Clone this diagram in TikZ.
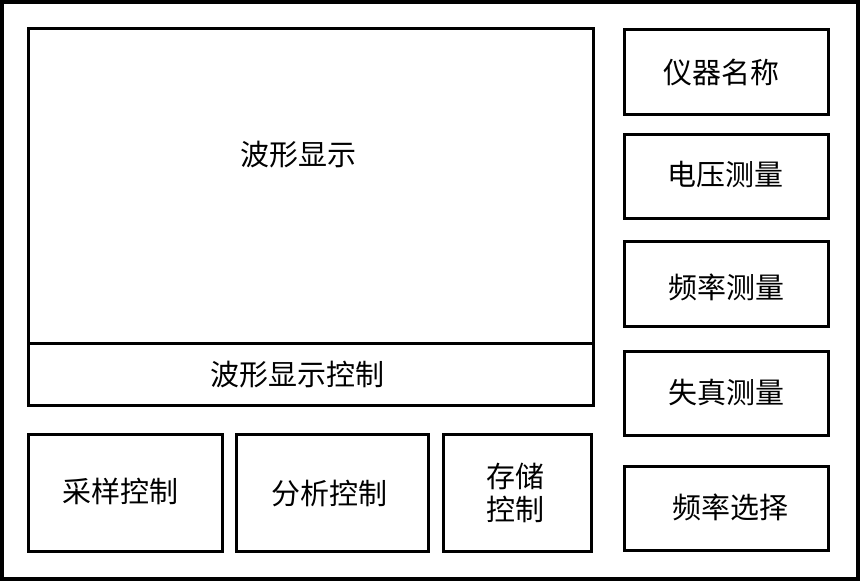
\documentclass[tikz,border=0pt]{standalone}
\usepackage{fontspec}
\newfontfamily\cjk{Noto Sans CJK SC}
\begin{document}
\begin{tikzpicture}[x=1pt,y=-1pt,
  box/.style={draw=black,line width=3pt,inner sep=0pt,outer sep=0pt},
  lbl/.style={font=\cjk\fontsize{29}{33}\selectfont,inner sep=0pt,align=center}]
\useasboundingbox (0,0) rectangle (860,581);
\draw[line width=4pt] (2,2) rectangle (858,579);
% waveform area
\node[box,minimum width=565pt,minimum height=377pt] (wave) at (310.5,216.5) {};
\draw[line width=3pt] (wave.west |- 0,343) coordinate (dl) -- (wave.east |- 0,343) coordinate (dr);
\node[lbl] (wt) at (298,155) {波形显示};
\node[lbl] (wc) at (297,375) {波形显示控制};
% bottom boxes
\node[box,minimum width=193.5pt,minimum height=117pt] (b1) at (125.25,493) {};
\node[box,minimum width=192.5pt,minimum height=117pt] (b2) at (332.25,493) {};
\node[box,minimum width=147.5pt,minimum height=117pt] (b3) at (517.25,493) {};
\node[lbl] at (120,491) {采样控制};
\node[lbl] at (329,494) {分析控制};
\node[lbl] at (515,493) {存储\\控制};
% right boxes
\node[box,minimum width=204pt,minimum height=84.5pt] (r1) at (726.5,71.75) {};
\node[box,minimum width=204pt,minimum height=84pt] (r2) at (726.5,176.5) {};
\node[box,minimum width=204pt,minimum height=85pt] (r3) at (726.5,284) {};
\node[box,minimum width=204pt,minimum height=83.5pt] (r4) at (726.5,393.25) {};
\node[box,minimum width=204pt,minimum height=83.5pt] (r5) at (726.5,508.25) {};
\node[lbl] at (721,72) {仪器名称};
\node[lbl] at (725,175) {电压测量};
\node[lbl] at (726,287) {频率测量};
\node[lbl] at (726,392) {失真测量};
\node[lbl] at (730,507) {频率选择};
\end{tikzpicture}
\end{document}
